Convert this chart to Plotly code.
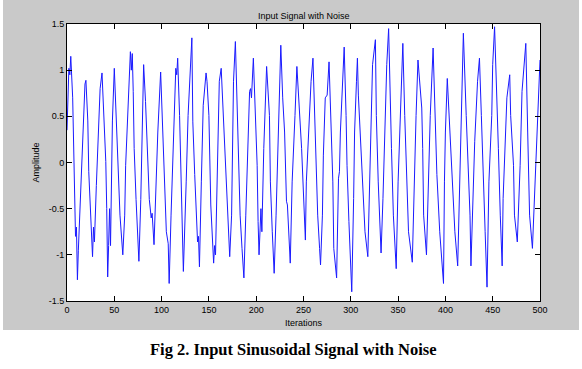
import plotly.graph_objects as go

# Iteration / amplitude points (peaks, troughs and visible kinks)
iterations = [0, 2, 3, 4, 6, 7, 8, 9, 10, 11, 12, 14, 16, 18, 19, 20, 22, 23, 25, 26, 27, 28, 29, 31, 33, 35, 37,
              39, 40, 41, 42, 43, 44, 45, 46, 47, 48, 50, 52, 54, 56, 59, 61, 62, 64, 66, 67, 68, 69, 70, 71, 73, 76,
              78, 80, 81, 83, 85, 87, 89, 90, 92, 94, 96, 99, 101, 103, 105, 107, 108, 110, 112, 114, 115, 116, 117,
              119, 120, 122, 123, 126, 128, 132, 133, 135, 137, 138, 139, 140, 142, 144, 147, 148, 150, 152, 155, 156,
              157, 159, 161, 163, 166, 169, 171, 172, 174, 175, 176, 178, 179, 181, 183, 185, 187, 189, 191, 193, 194,
              195, 197, 199, 201, 202, 203, 205, 206, 208, 210, 211, 214, 215, 217, 219, 221, 223, 225, 226, 228, 230,
              232, 233, 236, 238, 241, 243, 248, 250, 252, 253, 256, 258, 260, 262, 264, 265, 267, 268, 270, 271, 273,
              275, 277, 279, 281, 282, 285, 287, 288, 289, 291, 293, 295, 296, 298, 301, 303, 304, 306, 307, 308, 310,
              312, 315, 318, 320, 321, 323, 326, 327, 329, 332, 334, 336, 338, 340, 341, 343, 345, 348, 350, 353, 355,
              357, 359, 361, 365, 367, 369, 371, 373, 375, 376, 377, 380, 382, 384, 387, 389, 391, 394, 398, 399, 400,
              402, 405, 408, 410, 413, 415, 417, 419, 422, 424, 426, 427, 430, 431, 434, 436, 438, 440, 442, 444, 446,
              449, 450, 452, 454, 456, 458, 460, 461, 463, 465, 468, 469, 472, 473, 476, 479, 481, 485, 487, 489, 492,
              496, 498, 500]
amplitude = [0.35, 1.02, 0.95, 1.15, 0.70, 0.15, -0.30, -0.80, -0.70, -1.27, -0.95, -0.40, 0.20, 0.75, 0.85, 0.89,
             0.45, -0.10, -0.55, -0.65, -1.02, -0.70, -0.86, -0.25, 0.35, 0.80, 0.97,
             0.50, 0.15, 0.01, -0.50, -1.24, -0.90, -0.50, -0.90, -0.20, 0.45, 1.02, 0.51, -0.10, -0.57, -1.00, -0.57,
             -0.03, 0.51, 1.00, 1.20, 1.00, 1.18, 0.77, 0.15, -0.40, -1.07,
             -0.40, 0.40, 1.06, 0.66, 0.08, -0.40, -0.60, -0.55, -0.89, -0.28, 0.33, 0.98, 0.45, -0.13, -0.75, -0.88,
             -1.31, -0.57, 0.15, 0.88, 1.02, 0.95, 1.13,
             0.51, 0.05, -0.57, -1.18, -0.21, 0.51, 1.35, 0.44, -0.13, -0.64, -0.86, -0.80, -1.13, -0.21, 0.62, 0.97,
             0.88, 0.51, -0.46, -1.09, -0.90,
             -1.00, 0.15, 0.88, 1.02, 0.33, -0.39, -0.93, -1.02, -0.57, -0.03, 0.88, 1.31, 0.88, 0.15, -0.57, -0.93,
             -1.25, -0.57, 0.23, 0.77, 0.80,
             0.70, 1.13, 0.59, -0.03, -0.64, -1.00, -0.50, -0.75, 0.15, 0.70, 1.04, 0.51, -0.21, -0.75, -1.20, -0.57,
             0.15, 0.88, 1.27, 0.70, 0.33,
             -0.42, -0.46, -1.09, -0.21, 0.51, 1.04, 0.15, -0.32, -0.84, -0.21, 0.51, 0.88, 1.13, 0.51, -0.21, -0.57,
             -0.93, -1.11, -0.57, 0.08, 0.70,
             0.73, 1.09, 0.33, -0.21, -0.93, -1.25, -0.17, -0.10, 0.33, 0.88, 1.25, 0.51, -0.03, -0.64, -1.40, -0.39,
             0.33, 0.88, 1.13, 0.73, 0.33,
             -0.21, -0.75, -1.02, -0.21, 0.33, 1.06, 1.33, 0.51, -0.21, -0.98, -0.39, 0.33, 1.06, 1.45, 0.88, 0.15,
             -0.57, -1.15, -0.21, 0.70, 1.29,
             0.51, -0.21, -0.75, -1.08, -0.21, 0.51, 1.11, 0.85, 0.59, 0.15, -0.57, -1.00, -0.21, 0.51, 1.24, 0.51,
             -0.13, -0.75, -1.31, -0.21, 0.33,
             0.91, 0.33, -0.39, -0.75, -1.12, -0.21, 0.70, 1.40, 0.51, -0.03, -0.57, -1.12, -0.21, 0.23, 0.88, 1.13,
             0.51, -0.21, -0.75, -1.35, -0.21,
             0.51, 1.06, 1.47, 0.88, 0.15, -0.57, -1.12, -0.39, 0.15, 0.70, 0.95, 0.51, -0.03, -0.57, -0.86, -0.03,
             0.77, 1.29, 0.33, -0.57, -0.93,
             0.15, 0.70, 1.11]

x_ticks = [0, 50, 100, 150, 200, 250, 300, 350, 400, 450, 500]
y_ticks = [-1.5, -1, -0.5, 0, 0.5, 1, 1.5]
y_tick_labels = ["-1.5", "-1", "-0.5", "0", "0.5", "1", "1.5"]

W, H = 582, 369
L, R, T, B = 67, 540, 24, 301
pw, ph = R - L, B - T


def px(x):
    return (x - L) / pw


def py(y):
    return (B - y) / ph


font = "Liberation Sans, Arial, sans-serif"

fig = go.Figure()
fig.add_trace(go.Scatter(x=iterations, y=amplitude, mode="lines",
                         line=dict(color="#1a1aff", width=1), hoverinfo="skip"))

fig.update_layout(
    width=W, height=H,
    margin=dict(l=L, r=W - R, t=T, b=H - B, pad=0),
    paper_bgcolor="white",
    plot_bgcolor="white",
    showlegend=False,
    font=dict(family=font, size=9, color="black"),
    shapes=[
        dict(type="rect", xref="paper", yref="paper", x0=px(3), x1=px(579), y0=py(330), y1=py(0),
             fillcolor="#c9c9c9", line=dict(width=0), layer="below"),
        dict(type="rect", xref="paper", yref="paper", x0=0, x1=1, y0=0, y1=1,
             fillcolor="white", line=dict(width=0), layer="below"),
    ],
    annotations=[
        dict(text="Input Signal with Noise", xref="paper", yref="paper", x=0.5, y=py(16),
             showarrow=False, xanchor="center", yanchor="middle", font=dict(size=9, family=font)),
        dict(text="Iterations", xref="paper", yref="paper", x=0.5, y=py(323),
             showarrow=False, xanchor="center", yanchor="middle", font=dict(size=9, family=font)),
        dict(text="Amplitude", xref="paper", yref="paper", x=px(35), y=0.5, textangle=-90,
             showarrow=False, xanchor="center", yanchor="middle", font=dict(size=9, family=font)),
        dict(text="<b>Fig 2. Input Sinusoidal Signal with Noise</b>", xref="paper", yref="paper",
             x=px(293), y=py(349), showarrow=False, xanchor="center", yanchor="middle",
             font=dict(size=16.5, family="Liberation Serif, Times New Roman, serif", color="black")),
    ],
)

fig.update_xaxes(range=[0, 500], tickvals=x_ticks, ticktext=[str(v) for v in x_ticks],
                 showgrid=False, zeroline=False, showline=True, linecolor="black", linewidth=1,
                 mirror="ticks", ticks="inside", ticklen=5, tickcolor="black",
                 tickfont=dict(size=9, family=font, color="black"))
fig.update_yaxes(range=[-1.5, 1.5], tickvals=y_ticks, ticktext=y_tick_labels,
                 showgrid=False, zeroline=False, showline=True, linecolor="black", linewidth=1,
                 mirror="ticks", ticks="inside", ticklen=5, tickcolor="black",
                 tickfont=dict(size=9, family=font, color="black"))

fig.write_html("out.html", config={"displayModeBar": False},
               post_script="document.body.style.margin='0';document.body.style.overflow='hidden';")
